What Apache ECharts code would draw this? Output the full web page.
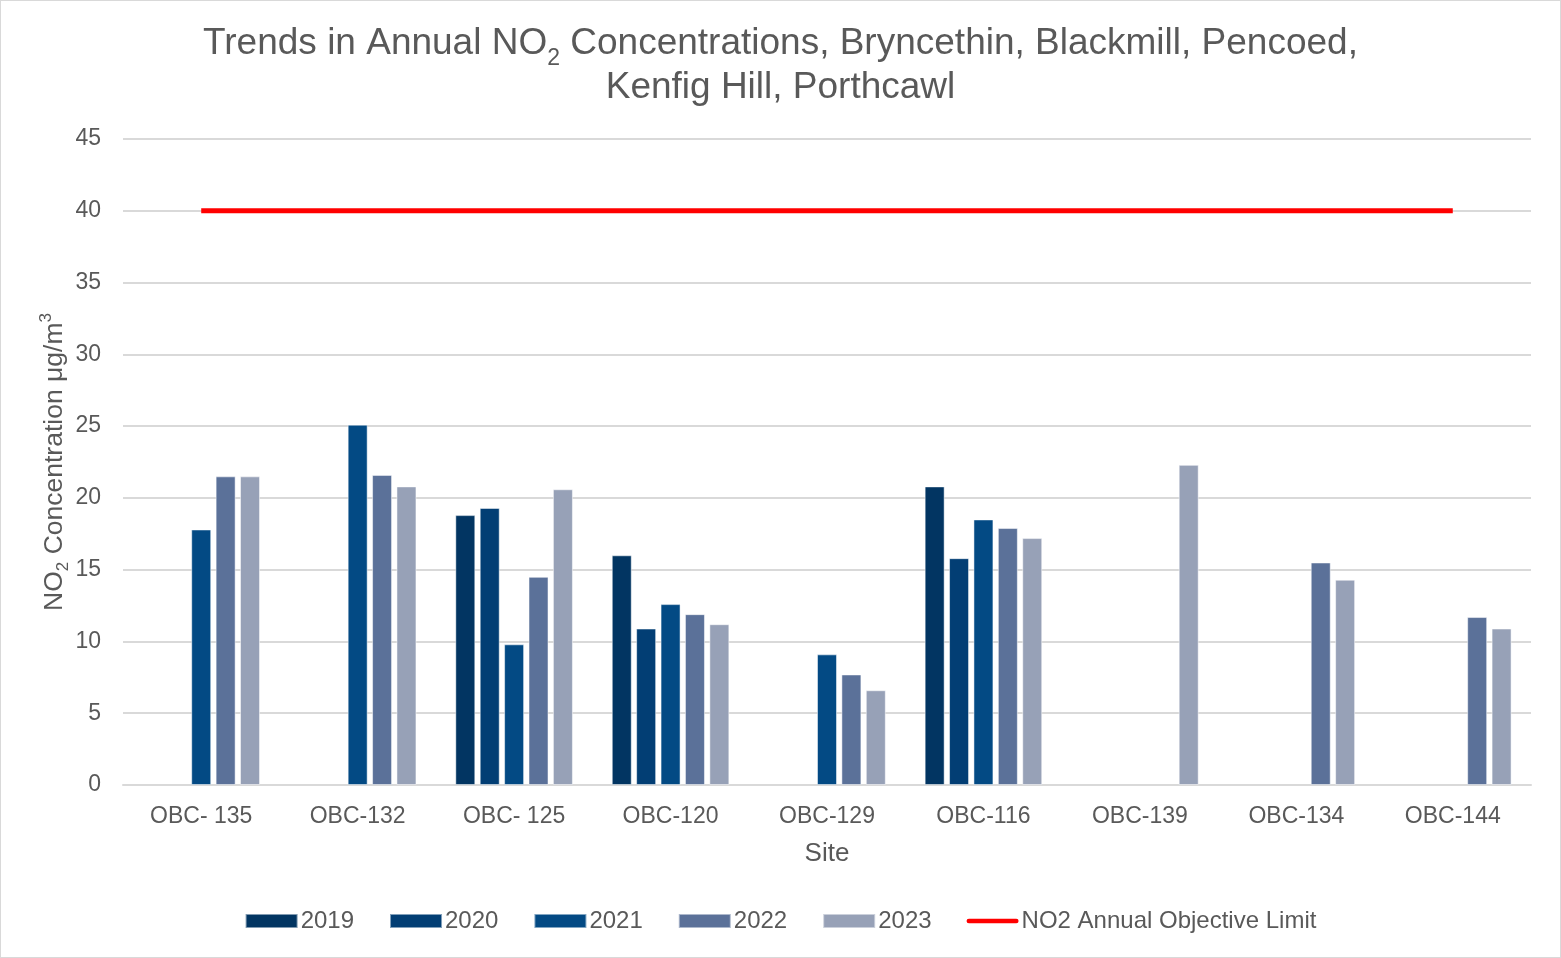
<!DOCTYPE html>
<html>
<head>
<meta charset="utf-8">
<script src="https://cdn.jsdelivr.net/npm/echarts@6/dist/echarts.min.js"></script>
<style>
  body { margin: 0; padding: 0; background: #fff; }
  #chart {
    width: 1561px;
    height: 958px;
    border: 1px solid #d9d9d9;
    box-sizing: border-box;
  }
</style>
</head>
<body>
<div id="chart"></div>
<script>
// sites along the x axis
var sites = ["OBC- 135", "OBC-132", "OBC- 125", "OBC-120", "OBC-129",
             "OBC-116", "OBC-139", "OBC-134", "OBC-144"];

// annual mean NO2 per year (null = no measurement)
var y2019 = [null, null, 18.8, 16.0, null, 20.8, null, null, null];
var y2020 = [null, null, 19.3, 10.9, null, 15.8, null, null, null];
var y2021 = [17.8, 25.1, 9.8, 12.6, 9.1, 18.5, null, null, null];
var y2022 = [21.5, 21.6, 14.5, 11.9, 7.7, 17.9, null, 15.5, 11.7];
var y2023 = [21.5, 20.8, 20.6, 11.2, 6.6, 17.2, 22.3, 14.3, 10.9];

// objective limit line
var limit = [40, 40, 40, 40, 40, 40, 40, 40, 40];

var yearNames = ["2019", "2020", "2021", "2022", "2023"];
var yearData = [y2019, y2020, y2021, y2022, y2023];
var yearColors = ["#023562", "#023e74", "#034a84", "#5b7199", "#97a1b7"];
var limitName = "NO2 Annual Objective Limit";

var textColor = "#595959";
var font = "Liberation Sans, Arial, sans-serif";

var series = yearData.map(function (d, i) {
  return {
    name: yearNames[i],
    type: "bar",
    data: d,
    barWidth: 20,
    barGap: "22%",
    itemStyle: {
      color: yearColors[i],
      borderColor: "rgba(255,255,255,0.5)",
      borderWidth: 1
    }
  };
});
series.push({
  name: limitName,
  type: "line",
  data: limit,
  symbol: "none",
  lineStyle: { color: "#ff0000", width: 5 },
  itemStyle: { color: "#ff0000" }
});

var legendData = yearNames.map(function (n) {
  return { name: n, icon: "rect" };
});
legendData.push({
  name: limitName,
  icon: "path://M2.5,0 L54.5,0 A2.5,2.5 0 0 1 54.5,5 L2.5,5 A2.5,2.5 0 0 1 2.5,0 Z"
});

var chart = echarts.init(document.getElementById("chart"));
chart.setOption({
  animation: false,
  textStyle: { fontFamily: font },
  title: {
    text: "{a|Trends in Annual NO}{s|2}{a| Concentrations, Bryncethin, Blackmill, Pencoed,}\n{a|Kenfig Hill, Porthcawl}",
    left: "center",
    top: 12,
    textStyle: {
      rich: {
        a: { fontSize: 37, color: textColor, lineHeight: 44, verticalAlign: "bottom",
             fontWeight: "normal", fontFamily: font },
        s: { fontSize: 23, color: textColor, lineHeight: 10, height: 6, verticalAlign: "bottom",
             fontWeight: "normal", fontFamily: font }
      }
    }
  },
  legend: {
    bottom: 19,
    left: "center",
    itemWidth: 52,
    itemHeight: 14,
    itemGap: 35,
    textStyle: { fontSize: 24, color: textColor, padding: [0, 0, 0, -2] },
    data: legendData
  },
  grid: {
    left: 122,
    right: 29,
    top: 138,
    bottom: 172,
    containLabel: false
  },
  xAxis: {
    type: "category",
    data: sites,
    name: "Site",
    nameLocation: "middle",
    nameGap: 56,
    nameTextStyle: { fontSize: 26, color: textColor },
    axisTick: { show: false },
    axisLine: { lineStyle: { color: "#d9d9d9", width: 2 } },
    axisLabel: { fontSize: 23, color: textColor, margin: 20 }
  },
  yAxis: {
    type: "value",
    min: 0,
    max: 45,
    interval: 5,
    name: "{a|NO}{s|2}{a| Concentration μg/m}{p|3}",
    nameLocation: "middle",
    nameGap: 55,
    nameMoveOverlap: false,
    nameTextStyle: {
      rich: {
        a: { fontSize: 26.5, color: textColor, lineHeight: 30, verticalAlign: "bottom", fontFamily: font },
        s: { fontSize: 17, color: textColor, lineHeight: 14, height: 10, verticalAlign: "bottom", fontFamily: font },
        p: { fontSize: 17, color: textColor, lineHeight: 14, verticalAlign: "top", fontFamily: font }
      }
    },
    axisLine: { show: false },
    axisTick: { show: false },
    axisLabel: { fontSize: 23, color: textColor, margin: 22 },
    splitLine: { lineStyle: { color: "#d9d9d9", width: 2 } }
  },
  series: series
});
</script>
</body>
</html>
